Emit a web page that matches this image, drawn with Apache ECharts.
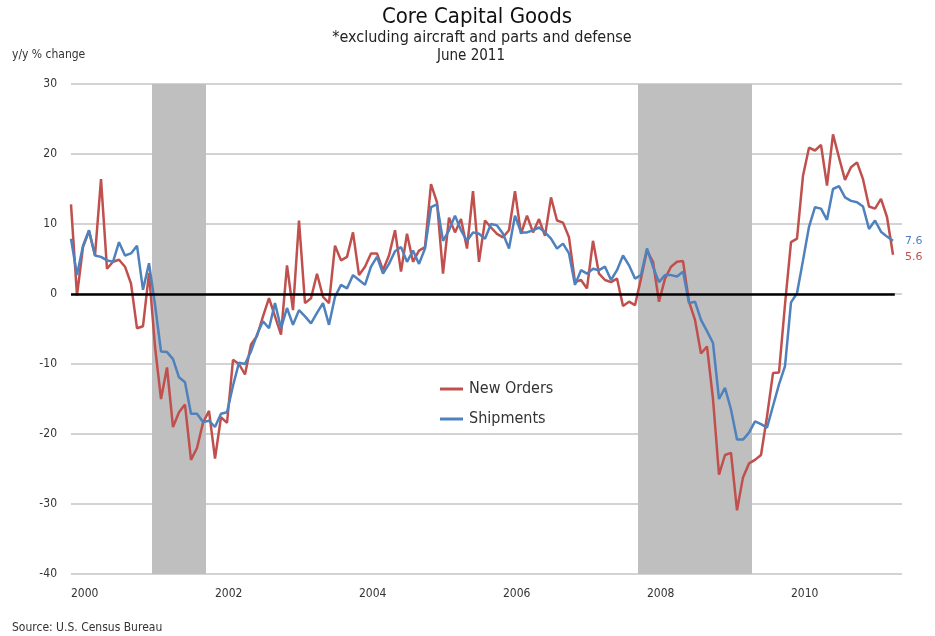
<!DOCTYPE html>
<html>
<head>
<meta charset="utf-8">
<script src="https://cdn.jsdelivr.net/npm/echarts@6/dist/echarts.min.js"></script>
<style>
html,body{margin:0;padding:0;background:#fff;}
#chart{width:935px;height:636px;}
</style>
</head>
<body>
<div id="chart"></div>
<script>
// Monthly data, Jan 2000 .. Jun 2011 (y/y % change)
const startYear = 2000;
const yearLabels = ['2000','2002','2004','2006','2008','2010'];
const newOrders = [
 12.8,-0.2,6.7,9.0,5.5,16.4,3.6,4.6,4.9,3.9,1.5,-4.9,
 -4.6,3.0,-7.5,-15.0,-10.5,-19.0,-16.9,-15.8,-23.7,-22.0,-18.4,-16.7,
 -23.5,-17.6,-18.4,-9.4,-10.0,-11.5,-7.2,-6.0,-3.2,-0.6,-3.2,-5.8,
 4.1,-2.3,10.5,-1.3,-0.6,2.9,-0.4,-1.3,6.9,4.8,5.3,8.8,
 2.7,3.9,5.8,5.8,3.4,5.5,9.1,3.2,8.6,4.6,6.2,6.7,
 15.7,13.1,2.9,10.9,8.8,10.7,6.5,14.7,4.6,10.5,9.5,8.6,
 8.1,9.1,14.7,8.6,11.2,8.8,10.7,8.3,13.8,10.5,10.2,8.1,
 1.7,2.0,0.8,7.6,2.9,2.0,1.7,2.2,-1.7,-1.1,-1.6,2.2,
 6.2,4.6,-1.1,2.2,3.9,4.6,4.7,-1.1,-3.7,-8.5,-7.5,-15.0,
 -25.8,-23.0,-22.7,-30.9,-26.2,-24.2,-23.7,-23.0,-17.5,-11.3,-11.2,-1.5,
 7.4,7.9,16.9,20.9,20.5,21.3,15.5,22.8,19.5,16.3,18.1,18.8,
 16.4,12.5,12.2,13.6,11.0,5.6
];
const shipments = [
 7.9,2.7,6.9,9.1,5.5,5.3,4.8,4.6,7.4,5.5,5.8,6.9,
 0.6,4.4,-1.5,-8.2,-8.3,-9.3,-11.9,-12.6,-17.1,-17.1,-18.3,-18.1,
 -19.0,-17.1,-16.9,-13.1,-9.8,-10.0,-8.2,-5.8,-3.9,-4.9,-1.3,-4.9,
 -2.0,-4.4,-2.3,-3.2,-4.2,-2.7,-1.3,-4.4,-0.4,1.3,0.8,2.7,
 2.0,1.3,3.9,5.3,2.9,4.3,6.1,6.7,4.6,6.2,4.3,6.5,
 12.4,12.8,7.6,9.1,11.2,9.1,7.6,8.8,8.6,7.9,10.0,9.8,
 8.6,6.5,11.2,8.8,8.8,9.1,9.5,8.8,7.9,6.5,7.2,5.8,
 1.3,3.4,2.9,3.6,3.4,3.9,2.0,3.4,5.5,4.1,2.2,2.7,
 6.5,3.9,1.7,2.7,2.7,2.5,3.2,-1.3,-1.1,-3.7,-5.3,-7.0,
 -15.0,-13.4,-16.5,-20.8,-20.8,-19.8,-18.2,-18.6,-19.1,-16.0,-12.9,-10.3,
 -1.2,0.1,4.8,9.6,12.4,12.2,10.6,15.0,15.4,13.8,13.3,13.1,
 12.5,9.3,10.5,8.9,8.2,7.6
];
// recessions as month indices (first and last month)
const recessions = [[14,22],[95,113]];
const yTicks = {min:-40, max:30, step:10};

const FONT = "'Liberation Sans Narrow','DejaVu Sans Condensed','Open Sans',sans-serif";
const RED = '#c0504d', BLUE = '#4f81bd';
const toPairs = arr => arr.map((v,i)=>[i,v]);
const lastIdx = newOrders.length - 1;

const chart = echarts.init(document.getElementById('chart'), null, {renderer:'canvas'});
chart.setOption({
  backgroundColor:'#fff',
  animation:false,
  grid:{left:71, right:33, top:84, bottom:62, containLabel:false},
  xAxis:{
    type:'value', min:0, max:138.5, interval:24,
    axisLine:{show:false}, axisTick:{show:false}, splitLine:{show:false},
    axisLabel:{
      showMaxLabel:false, align:'left', margin:14,
      fontFamily:FONT, fontSize:12, color:'#333',
      formatter: v => yearLabels[Math.round(v/24)] || ''
    }
  },
  yAxis:{
    type:'value', min:yTicks.min, max:yTicks.max, interval:yTicks.step,
    axisLine:{show:false}, axisTick:{show:false},
    axisLabel:{margin:14, fontFamily:FONT, fontSize:12, color:'#333'},
    splitLine:{lineStyle:{color:'#c4c4c4', width:1.5}}
  },
  legend:{
    orient:'vertical', left:435, top:376, itemGap:14,
    itemWidth:23, itemHeight:3, icon:'rect',
    textStyle:{fontFamily:FONT, fontSize:16, color:'#333', padding:[0,0,0,1]},
    data:['New Orders','Shipments']
  },
  graphic:[
    {type:'text', x:477, y:17, style:{text:'Core Capital Goods', font:"22px "+FONT, fill:'#111', textAlign:'center', textVerticalAlign:'middle'}},
    {type:'text', x:482, y:38, style:{text:'*excluding aircraft and parts and defense', font:"16px "+FONT, fill:'#222', textAlign:'center', textVerticalAlign:'middle'}},
    {type:'text', x:471, y:56, style:{text:'June 2011', font:"15px "+FONT, fill:'#222', textAlign:'center', textVerticalAlign:'middle'}},
    {type:'text', x:12, y:55, style:{text:'y/y % change', font:"12px "+FONT, fill:'#333', textVerticalAlign:'middle'}},
    {type:'text', x:12, y:628, style:{text:'Source: U.S. Census Bureau', font:"12px "+FONT, fill:'#333', textVerticalAlign:'middle'}}
  ],
  series:[
    {
      name:'New Orders', type:'line', data:toPairs(newOrders),
      symbol:'none', lineStyle:{color:RED, width:2.5}, itemStyle:{color:RED},
      z:3,
      endLabel:{show:true, distance:12, offset:[0,2], color:RED, fontFamily:"'DejaVu Sans',sans-serif", fontSize:11,
        formatter:p=>p.value[1].toFixed(1)},
      markArea:{silent:true, itemStyle:{color:'#bfbfbf'},
        data: recessions.map(r=>[{xAxis:r[0]-0.5},{xAxis:r[1]+0.5}])},
      markLine:{silent:true, symbol:'none', label:{show:false},
        lineStyle:{color:'#000', width:2.5, type:'solid'},
        data:[[{coord:[0,0]},{coord:[lastIdx+0.3,0]}]]}
    },
    {
      name:'Shipments', type:'line', data:toPairs(shipments),
      symbol:'none', lineStyle:{color:BLUE, width:2.5}, itemStyle:{color:BLUE},
      z:4,
      endLabel:{show:true, distance:12, offset:[0,0], color:BLUE, fontFamily:"'DejaVu Sans',sans-serif", fontSize:11,
        formatter:p=>p.value[1].toFixed(1)}
    }
  ]
});
</script>
</body>
</html>
